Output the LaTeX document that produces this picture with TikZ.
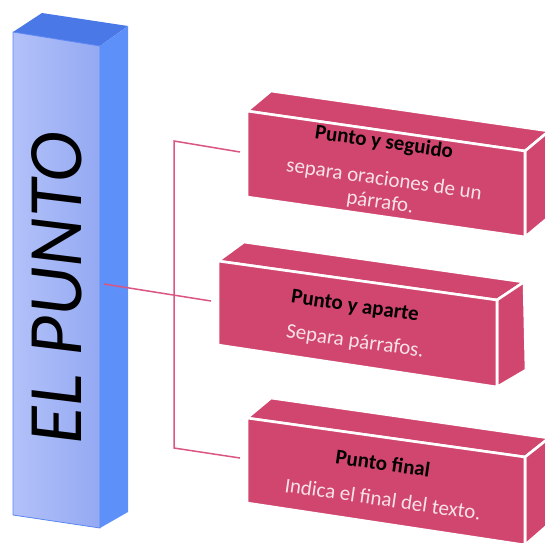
\documentclass[tikz,border=0pt]{standalone}
\usepackage{fontspec}
\setmainfont{Carlito}
\definecolor{pinkc}{HTML}{D1466F}
\definecolor{linec}{HTML}{DA5681}
\definecolor{desc}{HTML}{F8E2E9}
\definecolor{bluefrontL}{HTML}{B3C1F9}
\definecolor{bluefrontR}{HTML}{93A9F2}
\definecolor{blueright}{HTML}{5E90FA}
\definecolor{bluetop}{HTML}{4A78E6}
\definecolor{blueedge}{HTML}{5A86F2}
\tikzset{
  face/.style={fill=pinkc, draw=white, line width=2.6pt, line join=round},
  conn/.style={draw=linec, line width=1.5pt},
  ttl/.style={font=\fontsize{21}{25}\selectfont\bfseries, text=black, rotate=-8.2, inner sep=0pt},
  dsc/.style={font=\fontsize{21}{23}\selectfont, text=desc, rotate=-8.2, inner sep=0pt, align=center}
}
\begin{document}
\begin{tikzpicture}[x=1pt,y=-1pt]
\useasboundingbox (0,0) rectangle (545,542);
\begin{scope}
\clip (0,0) rectangle (545,542);
% blue column
\fill[bluetop] (13,32) -- (42,13) -- (128,26) -- (100,46) -- cycle;
\fill[blueright] (100,46) -- (128,26) -- (128,512) -- (100,528) -- cycle;
\shade[left color=bluefrontL, right color=bluefrontR] (13,32) -- (100,46) -- (100,528) -- (13,515) -- cycle;
\draw[blueedge, line width=0.8pt, line join=round] (13,32) -- (100,46) -- (100,528) -- (13,515) -- cycle;
\node[rotate=90, anchor=base, inner sep=0pt, font=\fontsize{77}{80}\selectfont\itshape] (title) at (81,288) {EL PUNTO};
\coordinate (colR) at (104,284);
% box 1
\draw[face] (247,111) -- (271,91) -- (549,131) -- (525,151) -- cycle;
\draw[face] (525,151) -- (549,131) -- (549,217) -- (525,237) -- cycle;
\draw[face] (247,111) -- (525,151) -- (525,237) -- (247,197) -- cycle;
\node[ttl] (t1) at (384,143) {Punto y seguido};
\node[dsc] (d1) at (384,180) {separa oraciones de un};
\node[dsc] (d1b) at (380,203) {párrafo.};
% box 2
\draw[face] (218,261) -- (244,242) -- (524,282) -- (497,300) -- cycle;
\draw[face] (497,300) -- (524,282) -- (526,370) -- (497,387) -- cycle;
\draw[face] (218,261) -- (497,300) -- (497,387) -- (218,345) -- cycle;
\coordinate (b2) at (211,301);
\node[ttl] (t2) at (355,307) {Punto y aparte};
\node[dsc] (d2) at (355,342) {Separa párrafos.};
% box 3
\draw[face] (247,418) -- (271,398) -- (549,438) -- (525,457) -- cycle;
\draw[face] (525,457) -- (549,438) -- (549,524) -- (525,545) -- cycle;
\draw[face] (247,418) -- (525,457) -- (525,545) -- (247,503) -- cycle;
\coordinate (b3) at (240,458);
\node[ttl] (t3) at (383,463) {Punto final};
\node[dsc] (d3) at (383,499) {Indica el final del texto.};
% connectors
\coordinate (c1) at (240,152);
\coordinate (k1) at (174,141);
\coordinate (k3) at (174,448);
\draw[conn, line join=miter] (c1) -- (k1) -- (k3) -- (b3);
\draw[conn] (colR) -- (b2);
\end{scope}
\end{tikzpicture}
\end{document}
